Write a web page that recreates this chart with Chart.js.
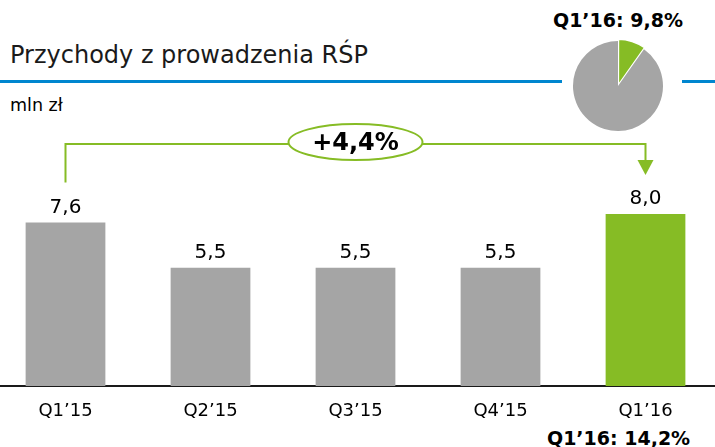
<!DOCTYPE html>
<html>
<head>
<meta charset="utf-8">
<script src="https://cdn.jsdelivr.net/npm/chart.js@4.4.1/dist/chart.umd.min.js"></script>
<style>
  html, body { margin: 0; padding: 0; background: #fff; }
  body { width: 715px; height: 447px; position: relative; overflow: hidden; font-family: 'DejaVu Sans', Verdana, sans-serif; color: #000; }
  .txt { position: absolute; white-space: nowrap; line-height: 1; }
  #title { left: 10px; top: 42.7px; font-size: 24px; color: #1a1a1a; }
  #unit { left: 10px; top: 96.6px; font-size: 17.5px; }
  #pieLabel { left: 553px; top: 10.9px; font-size: 19px; font-weight: bold; }
  #bottomLabel { left: 547px; top: 428.9px; font-size: 19px; font-weight: bold; }
  .blue { position: absolute; top: 80px; height: 3px; background: #0086cf; }
  #mainChart { position: absolute; left: -7px; top: 0; }
  #pieChart { position: absolute; left: 563px; top: 30.5px; }
</style>
</head>
<body>
<div class="blue" style="left:0;width:562px"></div>
<div class="blue" style="left:682px;width:33px"></div>
<div id="title" class="txt">Przychody z prowadzenia RŚP</div>
<div id="unit" class="txt">mln zł</div>
<div id="pieLabel" class="txt">Q1’16: 9,8%</div>
<div id="bottomLabel" class="txt">Q1’16: 14,2%</div>
<canvas id="mainChart" width="725" height="447"></canvas>
<canvas id="pieChart" width="110" height="110"></canvas>
<script>
// data
var quarters = ['Q1’15', 'Q2’15', 'Q3’15', 'Q4’15', 'Q1’16'];
var revenue = [7.6, 5.5, 5.5, 5.5, 8.0];
var revenueLabels = ['7,6', '5,5', '5,5', '5,5', '8,0'];
var growthLabel = '+4,4%';
var pieShares = [9.8, 90.2];

var GRAY = '#a5a5a5';
var GREEN = '#86bc25';

Chart.defaults.font.family = "'DejaVu Sans', Verdana, sans-serif";
Chart.defaults.color = '#000';

// value labels above bars + growth bracket from first to last bar
var annotations = {
  id: 'annotations',
  afterDatasetsDraw: function(chart) {
    var ctx = chart.ctx;
    var x = chart.scales.x, y = chart.scales.y;
    ctx.save();
    ctx.fillStyle = '#000';
    ctx.font = '20px "DejaVu Sans"';
    ctx.textAlign = 'center';
    ctx.textBaseline = 'alphabetic';
    revenue.forEach(function(v, i) {
      ctx.fillText(revenueLabels[i], x.getPixelForValue(i), y.getPixelForValue(v) - 9.5);
    });

    var last = revenue.length - 1;
    var x0 = x.getPixelForValue(0), x1 = x.getPixelForValue(last);
    var top0 = y.getPixelForValue(revenue[0]), top1 = y.getPixelForValue(revenue[last]);
    var level = y.getPixelForValue(11.25);
    var tip = top1 - 39;
    ctx.strokeStyle = GREEN;
    ctx.lineWidth = 2;
    ctx.beginPath();
    ctx.moveTo(x0, top0 - 40);
    ctx.lineTo(x0, level);
    ctx.lineTo(x1, level);
    ctx.lineTo(x1, tip - 14);
    ctx.stroke();
    ctx.fillStyle = GREEN;
    ctx.beginPath();
    ctx.moveTo(x1 - 8, tip - 15);
    ctx.lineTo(x1 + 8, tip - 15);
    ctx.lineTo(x1, tip);
    ctx.closePath();
    ctx.fill();

    var cx = (x0 + x1) / 2;
    ctx.beginPath();
    ctx.ellipse(cx, level - 2, 67, 18, 0, 0, Math.PI * 2);
    ctx.fillStyle = '#fff';
    ctx.fill();
    ctx.stroke();
    ctx.fillStyle = '#000';
    ctx.font = 'bold 24px "DejaVu Sans"';
    ctx.textBaseline = 'middle';
    ctx.fillText(growthLabel, cx, level);
    ctx.restore();
  }
};

new Chart(document.getElementById('mainChart'), {
  type: 'bar',
  data: {
    labels: quarters,
    datasets: [{
      data: revenue,
      backgroundColor: [GRAY, GRAY, GRAY, GRAY, GREEN],
      borderWidth: 0,
      categoryPercentage: 1,
      barPercentage: 0.55
    }]
  },
  options: {
    responsive: false,
    devicePixelRatio: 1,
    animation: false,
    layout: { padding: 0 },
    plugins: { legend: { display: false }, tooltip: { enabled: false } },
    scales: {
      x: {
        grid: { display: false, drawTicks: false },
        border: { display: true, color: '#1a1a1a', width: 2 },
        ticks: { font: { size: 18 }, color: '#000', padding: 15, maxRotation: 0 },
        afterFit: function(s) { s.height = 61; }
      },
      y: { display: false, min: 0, max: 17.95 }
    }
  },
  plugins: [annotations]
});

new Chart(document.getElementById('pieChart'), {
  type: 'pie',
  data: {
    labels: ['Q1’16', 'pozostałe'],
    datasets: [{
      data: pieShares,
      backgroundColor: [GREEN, GRAY],
      borderColor: '#fff',
      borderWidth: [1.5, 0],
      offset: [5, 0]
    }]
  },
  options: {
    responsive: false,
    devicePixelRatio: 1,
    animation: false,
    radius: 45,
    plugins: { legend: { display: false }, tooltip: { enabled: false } }
  }
});
</script>
</body>
</html>
